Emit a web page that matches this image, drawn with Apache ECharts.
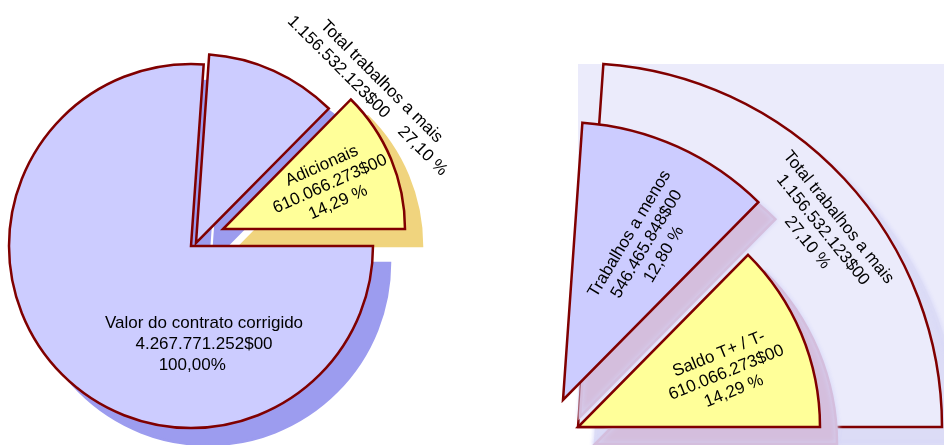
<!DOCTYPE html>
<html>
<head>
<meta charset="utf-8">
<script src="https://cdn.jsdelivr.net/npm/echarts@6/dist/echarts.min.js"></script>
<style>
  html, body { margin: 0; padding: 0; background: #fff; }
  #chart { width: 944px; height: 445px; }
</style>
</head>
<body>
<div id="chart"></div>
<script>
// Contract figures (escudos)
const contractLabel = 'Valor do contrato corrigido';
const contractValue = 4267771252;
const extraLabel = 'Total trabalhos a mais';
const extraValue = 1156532123;
// Split of the extra works: [trabalhos a menos, saldo / adicionais]
const partValues = [546465848, 610066273];
const partLabelsLeft = ['Trabalhos a menos', 'Adicionais'];
const partLabelsRight = ['Trabalhos a menos', 'Saldo T+ / T-'];

// Formatting helpers: 1.156.532.123$00 and 27,10
function escudos(v) {
  return String(v).replace(/\B(?=(\d{3})+(?!\d))/g, '.') + '$00';
}
function pct(v) {
  return (v / contractValue * 100).toFixed(2).replace('.', ',');
}

// Styles
const FONT = "'Liberation Sans', Arial, sans-serif";
const EDGE = '#800000';
const LAVENDER = '#ccccff';
const PALE = '#ebebfb';
const YELLOW = '#ffff99';
const HIDDEN = { color: 'rgba(0,0,0,0)', borderWidth: 0, shadowColor: 'rgba(0,0,0,0)' };
const SHADOW_OFFSET = 17;

// The extra-works wedge runs from just right of 12 o'clock to 3 o'clock
const WEDGE_START = 86;
const WEDGE_END = 0;

// One visible slice of a pie whose other items stay transparent
function slice(center, radius, start, end, values, visible, style, z) {
  return {
    type: 'pie', silent: true, animation: false, z: z,
    center: center, radius: [0, radius],
    startAngle: start, endAngle: end, clockwise: true,
    avoidLabelOverlap: false,
    label: { show: false }, labelLine: { show: false },
    data: values.map((v, i) => ({ value: v, itemStyle: i === visible ? style : HIDDEN }))
  };
}

// Slice with a dark-red outline
function solid(center, radius, start, end, values, visible, color, z) {
  return slice(center, radius, start, end, values, visible, {
    color: color, borderColor: EDGE, borderWidth: 2.5, borderJoin: 'miter'
  }, z);
}

// Drop shadow of a slice: same slice pushed down-right in a flat colour
function shadow(center, radius, start, end, values, visible, color, soft, z) {
  const c = [center[0] + SHADOW_OFFSET, center[1] + SHADOW_OFFSET];
  return slice(c, radius, start, end, values, visible, {
    color: color, borderColor: color, borderWidth: 2.5, borderJoin: 'miter',
    shadowColor: soft ? '#d6d6f8' : 'rgba(0,0,0,0)', shadowBlur: soft ? 5 : 0
  }, z);
}

// Transparent thin ring that carries a slice label at a chosen radius;
// the nudge is measured along and across the (rotated) text
function labelRing(center, rMid, start, end, values, index, text, rotate, nudge) {
  const s = {
    type: 'pie', silent: true, animation: false, z: 20,
    center: center, radius: [rMid - 2, rMid + 2],
    startAngle: start, endAngle: end, clockwise: true,
    avoidLabelOverlap: false,
    labelLine: { show: false },
    data: values.map((v, i) => ({
      value: v,
      itemStyle: HIDDEN,
      label: {
        show: i === index, position: 'inside', formatter: text, rotate: rotate,
        color: '#000', fontFamily: FONT, fontSize: 17, lineHeight: 20,
        textBorderWidth: 0, align: 'center'
      }
    }))
  };
  if (nudge) s.labelLayout = { dx: nudge[0], dy: nudge[1] };
  return s;
}

// Left pie: contract value with the exploded extra-works wedge
const leftC = [191, 246];
const leftMenosC = [196, 243];
const leftAdicC = [223, 229];
const leftR = 182;
const leftMenosR = 189;

const mainShadow = shadow(leftC, leftR, WEDGE_END, WEDGE_START - 360, [contractValue], 0, '#9c9cef', false, 1);
const menosShadowL = shadow(leftMenosC, leftMenosR, WEDGE_START, WEDGE_END, partValues, 0, '#9c9cef', false, 1);
const adicShadowL = shadow(leftAdicC, leftR, WEDGE_START, WEDGE_END, partValues, 1, '#f0d47e', false, 1);

const mainSeries = solid(leftC, leftR, WEDGE_END, WEDGE_START - 360, [contractValue], 0, LAVENDER, 2);
mainSeries.data[0].label = {
  show: true, position: 'center',
  formatter: contractLabel + '\n' + escudos(contractValue) + '\n' + pct(contractValue) + '%     ',
  color: '#000', fontFamily: FONT, fontSize: 17, lineHeight: 21, textBorderWidth: 0
};
mainSeries.labelLayout = { dx: 13, dy: 98 };

const leftMenos = solid(leftMenosC, leftMenosR, WEDGE_START, WEDGE_END, partValues, 0, LAVENDER, 3);
const leftAdic = solid(leftAdicC, leftR, WEDGE_START, WEDGE_END, partValues, 1, YELLOW, 4);

const leftAdicLabel = labelRing(leftAdicC, 108, WEDGE_START, WEDGE_END, partValues, 1,
  partLabelsLeft[1] + '\n' + escudos(partValues[1]) + '\n' + pct(partValues[1]) + ' %', 24, [5, 0]);
const leftTotalLabel = labelRing(leftC, 240, WEDGE_START, WEDGE_END, [extraValue], 0,
  extraLabel + '\n' + escudos(extraValue) + '    ' + pct(extraValue) + ' %', -45, [10, 2]);

// Right fan: the extra works split into its two parts
const rightC = [578, 427];
const rightMenosC = [563, 400];

const totalShadowR = shadow(rightC, 364, WEDGE_START, WEDGE_END, [extraValue], 0, '#dcdcf6', true, 5);
const rightTotal = solid(rightC, 364, WEDGE_START, WEDGE_END, [extraValue], 0, PALE, 6);
const menosShadowR = shadow(rightMenosC, 278, WEDGE_START, WEDGE_END, partValues, 0, '#d4bedd', true, 7);
const saldoShadowR = shadow(rightC, 242, WEDGE_START, WEDGE_END, partValues, 1, '#d4bedd', true, 7);
const rightMenos = solid(rightMenosC, 278, WEDGE_START, WEDGE_END, partValues, 0, LAVENDER, 8);
const rightSaldo = solid(rightC, 242, WEDGE_START, WEDGE_END, partValues, 1, YELLOW, 9);

const rightTotalLabel = labelRing(rightC, 313, WEDGE_START, WEDGE_END, [extraValue], 0,
  extraLabel + '\n' + escudos(extraValue) + '\n' + pct(extraValue) + ' %', -51, [23, 1]);
const rightMenosLabel = labelRing(rightMenosC, 173, WEDGE_START, WEDGE_END, partValues, 0,
  partLabelsRight[0] + '\n' + escudos(partValues[0]) + '\n' + pct(partValues[0]) + ' %', 59, [2, 12]);
const rightSaldoLabel = labelRing(rightC, 154, WEDGE_START, WEDGE_END, partValues, 1,
  partLabelsRight[1] + '\n' + escudos(partValues[1]) + '\n' + pct(partValues[1]) + ' %', 22, [1, 7]);

const chart = echarts.init(document.getElementById('chart'), null, { renderer: 'canvas' });
chart.setOption({
  animation: false,
  backgroundColor: '#ffffff',
  graphic: [{
    type: 'rect', silent: true, z: 0,
    shape: { x: 578, y: 64, width: 366, height: 363 },
    style: { fill: PALE }
  }],
  series: [
    mainShadow, menosShadowL, adicShadowL, mainSeries, leftMenos, leftAdic,
    leftAdicLabel, leftTotalLabel,
    totalShadowR, rightTotal, menosShadowR, saldoShadowR, rightMenos, rightSaldo,
    rightTotalLabel, rightMenosLabel, rightSaldoLabel
  ]
});
</script>
</body>
</html>
